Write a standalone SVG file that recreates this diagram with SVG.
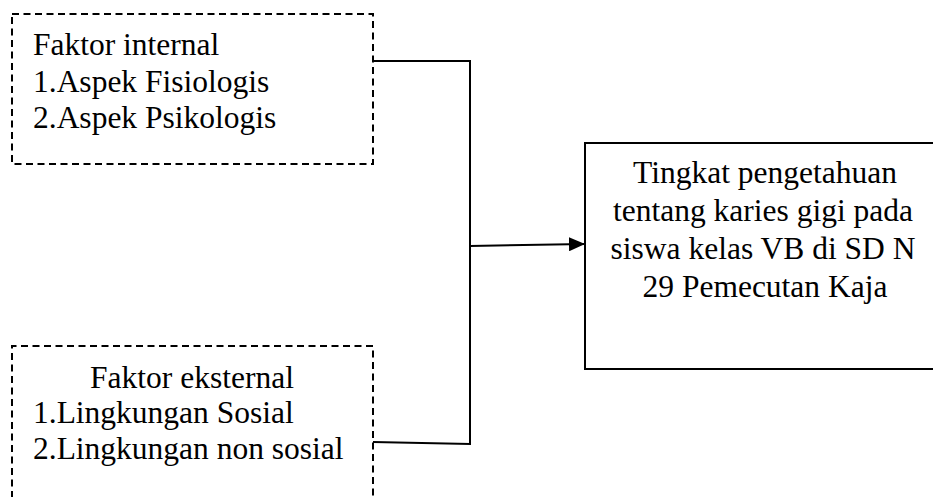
<svg xmlns="http://www.w3.org/2000/svg" width="933" height="497" viewBox="0 0 933 497">
<style>
.t{font-family:"Liberation Serif","Times New Roman",serif;font-size:31.5px;fill:#000}
.dash{fill:none;stroke:#000;stroke-width:2;stroke-dasharray:7 4.5}
.solid{fill:none;stroke:#000;stroke-width:2}
.conn{fill:none;stroke:#000;stroke-width:2}
</style>
<defs>
<marker id="arr" markerWidth="16" markerHeight="14" refX="16" refY="7" orient="auto" markerUnits="userSpaceOnUse">
<path d="M0,0 L16,7 L0,14 Z" fill="#000"/>
</marker>
</defs>
<rect width="933" height="497" fill="#fff"/>
<g id="internal">
<rect class="dash" x="12" y="14" width="361" height="150"/>
<text class="t" x="33" y="55">Faktor internal</text>
<text class="t" x="33" y="92">1.Aspek Fisiologis</text>
<text class="t" x="33" y="128">2.Aspek Psikologis</text>
</g>
<g id="eksternal">
<path class="dash" d="M12,498 V346 H373 V498"/>
<text class="t" x="192" y="388" text-anchor="middle">Faktor eksternal</text>
<text class="t" x="33" y="423">1.Lingkungan Sosial</text>
<text class="t" x="33" y="459">2.Lingkungan non sosial</text>
</g>
<g id="tingkat">
<rect class="solid" x="585" y="143" width="360" height="226"/>
<text class="t" x="765" y="183" text-anchor="middle">Tingkat pengetahuan</text>
<text class="t" x="763" y="221" text-anchor="middle">tentang karies gigi pada</text>
<text class="t" x="763" y="259" text-anchor="middle">siswa kelas VB di SD N</text>
<text class="t" x="765" y="297" text-anchor="middle">29 Pemecutan Kaja</text>
</g>
<g id="connectors">
<path class="conn" d="M373,61 H470 V444 L373,442"/>
<path class="conn" d="M470,246 L585,244" marker-end="url(#arr)"/>
</g>
</svg>
